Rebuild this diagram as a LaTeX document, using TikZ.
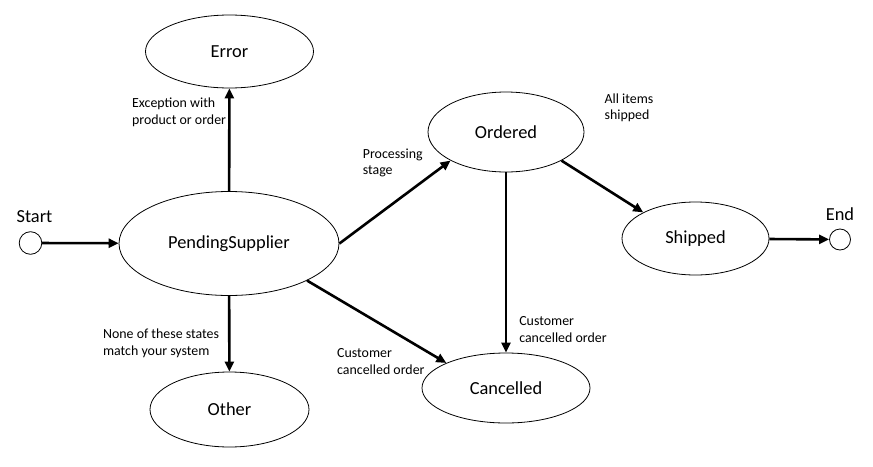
\documentclass[tikz,border=0pt]{standalone}
\usepackage{fontspec}
\setmainfont{Carlito}
\usepackage{tikz}
\usetikzlibrary{positioning, shapes.geometric, arrows.meta}

\begin{document}
\begin{tikzpicture}[x=1pt, y=-1pt,
    state/.style={draw, ellipse, line width=0.8pt, inner sep=0pt, font=\fontsize{18.4}{22}\selectfont},
    pseudo/.style={draw, circle, line width=0.8pt, inner sep=0pt},
    trans/.style={line width=2.6pt, -{Triangle[length=10pt, width=9pt]}},
    note/.style={align=left, inner sep=1pt, font=\fontsize{13.9}{16.8}\selectfont}]
    \useasboundingbox (0,0) rectangle (873,466);
    \node [pseudo, minimum size=22.6pt] (Start) at (30.5,243) {};
    \node [above = 7pt of Start, xshift=4pt, inner sep=1pt, font=\fontsize{18.4}{22}\selectfont] (StartLbl) {Start};
    \node [state, minimum width=220pt, minimum height=104pt] (PS) at (229,243.5) {PendingSupplier};
    \node [state, minimum width=168pt, minimum height=73pt] (Error) at (229.5,51.5) {Error};
    \node [state, minimum width=159pt, minimum height=75pt] (Other) at (229.5,409.5) {Other};
    \node [state, minimum width=156pt, minimum height=80pt] (Ordered) at (506,132) {Ordered};
    \node [state, minimum width=168pt, minimum height=70pt] (Cancelled) at (506,388) {Cancelled};
    \node [state, minimum width=147pt, minimum height=73pt] (Shipped) at (695.5,238.5) {Shipped};
    \node [pseudo, minimum size=21pt] (End) at (840,239.5) {};
    \node [above = 7pt of End, inner sep=1pt, font=\fontsize{18.4}{22}\selectfont] (EndLbl) {End};
    \draw [trans] (Start) -- (PS);
    \draw [trans] (PS) -- (Error) node [note, pos=0.77, left=1pt] (ErrNote) {Exception with\\product or order};
    \draw [trans] (PS) -- (Other) node [note, pos=0.63, left=8pt] (OtherNote) {None of these states\\match your system};
    \draw [trans] (PS.east) -- (Ordered.south west) node [note, pos=0.77, above left=0pt] (ProcNote) {Processing\\stage};
    \draw [trans] (PS.south east) -- (Cancelled.north west) node [note, pos=0.86, anchor=north east, yshift=5pt] (CancNoteA) {Customer\\cancelled order};
    \draw [trans] (Ordered) -- (Cancelled) node [note, pos=0.87, right=11pt] (CancNoteB) {Customer\\cancelled order};
    \draw [trans] (Ordered.south east) -- (Shipped.north west) node [note, pos=0.5, above right=62pt and 0pt] (ShipNote) {All items\\shipped};
    \draw [trans] (Shipped) -- (End);
\end{tikzpicture}
\end{document}
